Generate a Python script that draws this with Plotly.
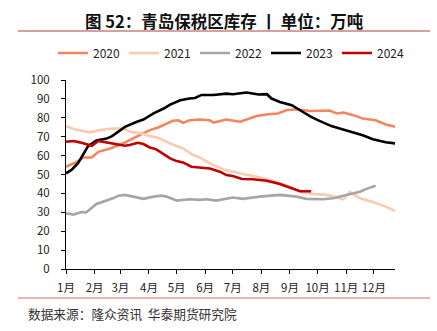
import plotly.graph_objects as go

# Qingdao bonded-zone rubber inventory (10k tonnes), by calendar day of each year
dates_2020 = ["01-01", "01-11", "01-20", "01-29", "02-05", "02-18", "03-02", "03-15", "03-26", "04-02",
              "04-11", "04-20", "04-27", "05-03", "05-08", "05-15", "05-26", "06-06", "06-10", "06-24",
              "07-09", "07-27", "08-08", "08-19", "08-28", "09-08", "09-23", "10-14", "10-22", "10-29",
              "11-09", "11-19", "12-03", "12-14", "12-25"]
vals_2020 = [54.1, 56.2, 59.0, 59.0, 62.0, 63.8, 66.0, 69.1, 71.7, 73.5,
             74.9, 77.0, 78.4, 78.7, 77.3, 78.7, 79.1, 78.7, 77.5, 79.1,
             77.9, 81.0, 81.9, 82.3, 84.0, 84.5, 83.6, 83.8, 82.3, 82.8,
             81.4, 79.6, 78.7, 76.5, 75.2]

dates_2021 = ["01-01", "01-11", "01-27", "02-07", "02-18", "03-01", "03-07", "03-13", "03-22", "04-02",
              "04-11", "04-24", "05-08", "05-19", "05-26", "06-06", "06-21", "07-01", "07-12", "07-30",
              "08-17", "09-01", "09-12", "09-26", "10-11", "10-29", "11-05", "11-16", "11-30", "12-14",
              "12-25"]
vals_2021 = [75.6, 73.8, 72.3, 73.5, 74.2, 74.4, 73.8, 72.4, 72.0, 70.3,
             69.4, 66.4, 63.8, 60.3, 59.0, 55.9, 52.7, 51.5, 50.3, 48.5,
             46.2, 43.6, 40.9, 39.7, 39.2, 36.9, 40.9, 37.4, 35.5, 33.0,
             30.5]

dates_2022 = ["01-01", "01-09", "01-18", "01-23", "02-03", "02-14", "02-21", "02-27", "03-06", "03-15",
              "03-26", "04-06", "04-15", "04-20", "05-01", "05-15", "05-26", "06-03", "06-13", "07-01",
              "07-12", "07-30", "08-14", "08-21", "09-08", "09-19", "10-07", "10-18", "10-29", "11-09",
              "11-16", "11-23", "12-03"]
vals_2022 = [29.5, 28.8, 30.1, 29.9, 34.4, 36.2, 37.4, 38.8, 39.2, 38.3,
             37.1, 38.3, 38.8, 38.3, 36.2, 36.9, 36.6, 36.9, 36.2, 37.8,
             37.1, 38.3, 38.7, 39.2, 38.3, 37.1, 36.9, 37.4, 38.7, 40.1,
             40.9, 42.4, 44.1]

dates_2023 = ["01-01", "01-07", "01-14", "01-22", "01-25", "02-03", "02-14", "02-20", "03-01", "03-06",
              "03-19", "03-26", "04-06", "04-17", "04-24", "05-05", "05-15", "05-21", "05-28", "06-10",
              "06-24", "07-01", "07-16", "07-29", "08-07", "08-12", "08-21", "09-03", "09-12", "09-24",
              "10-03", "10-16", "10-25", "11-05", "11-19", "11-30", "12-14", "12-25"]
vals_2023 = [50.6, 52.4, 56.0, 63.0, 65.0, 68.0, 69.0, 70.3, 73.5, 75.2,
             77.9, 79.1, 82.3, 84.9, 87.0, 89.3, 90.2, 90.5, 92.1, 92.1,
             92.8, 92.5, 93.4, 92.3, 92.5, 90.2, 88.4, 86.7, 84.0, 80.5,
             78.4, 75.6, 74.4, 72.9, 70.8, 68.7, 67.1, 66.4]

dates_2024 = ["01-01", "01-09", "01-16", "01-23", "01-29", "02-05", "02-14", "02-25", "03-06", "03-11",
              "03-20", "03-26", "04-02", "04-09", "04-17", "04-24", "05-01", "05-08", "05-17", "05-26",
              "06-06", "06-17", "06-24", "07-01", "07-11", "07-23", "08-07", "08-21", "09-01", "09-12",
              "09-24"]
vals_2024 = [67.3, 67.7, 67.0, 66.1, 65.2, 67.8, 67.0, 66.1, 65.2, 65.6,
             66.8, 66.1, 64.3, 63.3, 60.8, 58.5, 57.1, 56.4, 54.1, 53.6,
             53.2, 51.5, 49.7, 49.2, 47.6, 47.5, 46.7, 45.0, 43.2, 41.1,
             41.1]

month_labels = ["1月", "2月", "3月", "4月", "5月", "6月", "7月", "8月", "9月", "10月", "11月", "12月"]
y_ticks = [0, 10, 20, 30, 40, 50, 60, 70, 80, 90, 100]

BASE_YEAR = "2021"  # common non-leap calendar so every year shares one axis


def on_axis(md):
    return [f"{BASE_YEAR}-{d}" for d in md]


series = [
    ("2020", dates_2020, vals_2020, "#F4865F"),
    ("2021", dates_2021, vals_2021, "#F9CBB0"),
    ("2022", dates_2022, vals_2022, "#A6A6A6"),
    ("2023", dates_2023, vals_2023, "#000000"),
    ("2024", dates_2024, vals_2024, "#C00000"),
]

FONT = "Noto Sans CJK SC, Liberation Sans, Arial, sans-serif"

W, H = 437, 331
LEFT, RIGHT, TOP, BOTTOM = 66, 395, 80, 269   # plot-area edges in pixels

fig = go.Figure()
for name, d, v, color in series:
    fig.add_trace(go.Scatter(
        x=on_axis(d), y=v, name=name, mode="lines",
        line=dict(color=color, width=2.6),
    ))

month_ticks = [f"{BASE_YEAR}-{m:02d}-01" for m in range(1, 13)]


def py(pix_y):
    return (BOTTOM - pix_y) / (BOTTOM - TOP)


def px(pix_x):
    return (pix_x - LEFT) / (RIGHT - LEFT)


fig.update_layout(
    width=W, height=H,
    margin=dict(l=LEFT, r=W - RIGHT, t=TOP, b=H - BOTTOM, autoexpand=False),
    paper_bgcolor="white", plot_bgcolor="white",
    font=dict(family=FONT, size=11, color="#222222"),
    showlegend=True,
    legend=dict(
        orientation="h", xref="paper", yref="paper",
        x=px(53), xanchor="left", y=py(53), yanchor="middle",
        font=dict(size=12, color="#222222"),
        itemwidth=30, entrywidth=26, entrywidthmode="pixels",
        bgcolor="rgba(0,0,0,0)",
    ),
    xaxis=dict(
        type="date",
        range=[f"{BASE_YEAR}-01-01", f"{BASE_YEAR}-12-24"],
        tickvals=month_ticks, ticktext=month_labels,
        showgrid=False, zeroline=False,
        showline=True, linecolor="#000000", linewidth=1,
        ticks="outside", ticklen=4, tickcolor="#000000",
        tickfont=dict(size=11.5, color="#222222"),
        ticklabelstandoff=4,
        fixedrange=True,
    ),
    yaxis=dict(
        range=[0, 100], tickvals=y_ticks,
        showgrid=False, zeroline=False,
        showline=True, linecolor="#000000", linewidth=1,
        ticks="outside", ticklen=4, tickcolor="#000000",
        tickfont=dict(size=11.5, color="#222222"),
        ticklabelstandoff=9,
        fixedrange=True,
    ),
)

# title and source
fig.add_annotation(
    text="<b>图 52：青岛保税区库存 丨 单位：万吨</b>",
    xref="paper", yref="paper", x=px(224), y=py(21), yanchor="middle", xanchor="center",
    showarrow=False, font=dict(size=16.5, color="#111111", family=FONT),
)
fig.add_annotation(
    text="数据来源：隆众资讯  华泰期货研究院",
    xref="paper", yref="paper", x=px(26), y=py(313), xanchor="left", yanchor="middle",
    showarrow=False, font=dict(size=12.7, color="#333333", family=FONT),
)

# thin rules under the title and above the source line
fig.add_shape(type="line", xref="paper", yref="paper", x0=px(18), x1=px(430), y0=py(31), y1=py(31),
              line=dict(color="#C98080", width=1.5))
fig.add_shape(type="line", xref="paper", yref="paper", x0=px(18), x1=px(430), y0=py(298), y1=py(298),
              line=dict(color="#D96B6B", width=1.2))

fig.write_html("out.html")
